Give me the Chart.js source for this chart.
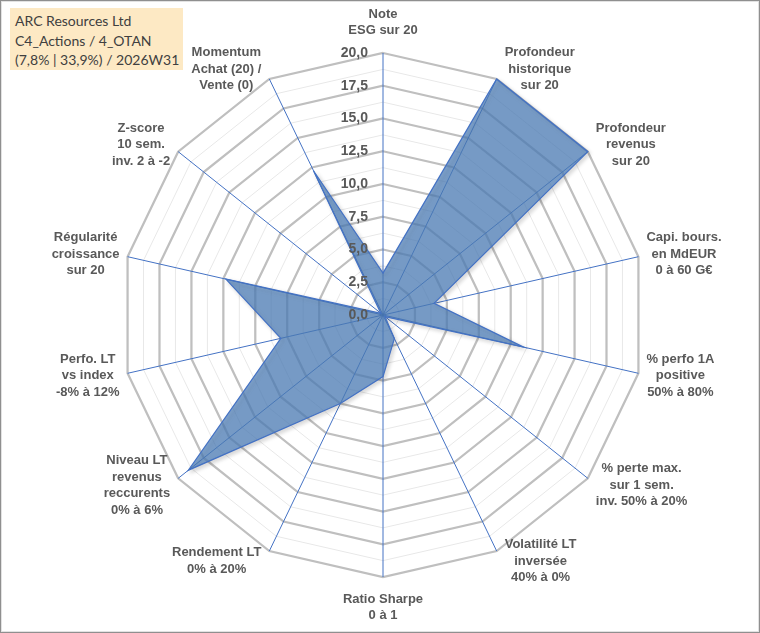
<!DOCTYPE html>
<html lang="fr">
<head>
<meta charset="utf-8">
<title>ARC Resources Ltd - radar</title>
<script src="https://cdn.jsdelivr.net/npm/chart.js@4.4.1/dist/chart.umd.min.js"></script>
<style>
  html, body { margin: 0; padding: 0; background: #fff; }
  #wrap { position: relative; width: 760px; height: 633px; overflow: hidden; }
  #radar { position: absolute; left: 0; top: 0; }
  #frame {
    position: absolute; left: 0; top: 0; width: 758px; height: 631px;
    border: 1px solid #8f8f8f; box-shadow: inset 0 0 0 1px #e2e2e2;
    pointer-events: none;
  }
  #info {
    position: absolute; left: 10px; top: 8px; width: 173px; height: 62px;
    box-sizing: border-box; padding: 3px 0 0 5px;
    background: #fde9c4; color: #404040;
    font: 14px Lato, "Open Sans", sans-serif; line-height: 19.5px;
    white-space: nowrap;
  }
</style>
</head>
<body>
<div id="wrap">
  <canvas id="radar" width="760" height="633"></canvas>
  <div id="info"></div>
  <div id="frame"></div>
</div>
<script>
// Fiche radar (14 critères notés sur 20)

const infoLines = ['ARC Resources Ltd', 'C4_Actions / 4_OTAN', '(7,8% | 33,9%) / 2026W31'];

const axisLabels = [
  ['Note', 'ESG sur 20'],
  ['Profondeur', 'historique', 'sur 20'],
  ['Profondeur', 'revenus', 'sur 20'],
  ['Capi. bours.', 'en MdEUR', '0 à 60 G€'],
  ['% perfo 1A', 'positive', '50% à 80%'],
  ['% perte max.', 'sur 1 sem.', 'inv. 50% à 20%'],
  ['Volatilité LT', 'inversée', '40% à 0%'],
  ['Ratio Sharpe', '0 à 1'],
  ['Rendement LT', '0% à 20%'],
  ['Niveau LT', 'revenus', 'reccurents', '0% à 6%'],
  ['Perfo. LT', 'vs index', '-8% à 12%'],
  ['Régularité', 'croissance', 'sur 20'],
  ['Z-score', '10 sem.', 'inv. 2 à -2'],
  ['Momentum', 'Achat (20) /', 'Vente (0)']
];

const scores = [3.2, 20, 20, 4.0, 11.0, 0.2, 2.0, 4.7, 7.5, 19.0, 8.0, 12.3, 0.2, 12.2];

const tickValues = [0, 2.5, 5, 7.5, 10, 12.5, 15, 17.5, 20];
const tickLabels = ['0,0', '2,5', '5,0', '7,5', '10,0', '12,5', '15,0', '17,5', '20,0'];

document.getElementById('info').innerHTML = infoLines.join('<br>');

const labelFont = 'bold 13px "Liberation Sans", Arial, sans-serif';
const textGrey = '#595959';

// excel-like drop shadow under the filled area
const shadowPlugin = {
  id: 'softShadow',
  beforeDatasetsDraw(chart) {
    const c = chart.ctx;
    c.save();
    c.shadowColor = 'rgba(0,0,0,0.2)';
    c.shadowBlur = 4;
    c.shadowOffsetX = 2;
    c.shadowOffsetY = 2;
  },
  afterDatasetsDraw(chart) {
    chart.ctx.restore();
  }
};

// tick values left of the top axis + centred axis titles
const labelPlugin = {
  id: 'excelLabels',
  afterDraw(chart) {
    const r = chart.scales.r;
    const ctx = chart.ctx;
    ctx.save();
    ctx.fillStyle = textGrey;

    ctx.font = 'bold 14px "Liberation Sans", Arial, sans-serif';
    ctx.textAlign = 'right';
    ctx.textBaseline = 'middle';
    tickValues.forEach((v, i) => {
      const d = r.getDistanceFromCenterForValue(v);
      ctx.fillText(tickLabels[i], r.xCenter - 15, r.yCenter - d);
    });

    ctx.font = labelFont;
    ctx.textAlign = 'center';
    const lh = 16.5;
    axisLabels.forEach((lines, i) => {
      const a = r.getIndexAngle(i);
      const p = r.getPointPosition(i, r.drawingArea);
      const w = Math.max(...lines.map(t => ctx.measureText(t).width));
      const h = lines.length * lh;
      const s = Math.sin(a), c = Math.cos(a);
      let cx, cy;
      if (Math.abs(s) < 0.01) {
        cx = p.x;
        cy = p.y - Math.sign(c) * (14 + h / 2);
      } else {
        cx = p.x + Math.sign(s) * (8 + w / 2);
        cy = p.y - c * 11;
      }
      lines.forEach((t, k) => ctx.fillText(t, cx, cy - h / 2 + lh * (k + 0.5)));
    });
    ctx.restore();
  }
};

const ctx = document.getElementById('radar').getContext('2d');
const radar = new Chart(ctx, {
  type: 'radar',
  data: {
    labels: axisLabels,
    datasets: [{
      data: scores,
      backgroundColor: 'rgba(79,129,189,0.72)',
      borderColor: '#4472C4',
      borderWidth: 1.25,
      pointRadius: 0,
      fill: true
    }]
  },
  options: {
    responsive: false,
    animation: false,
    devicePixelRatio: 1,
    layout: {
      padding: { left: 121, right: 115, top: 53, bottom: 56 }
    },
    plugins: {
      legend: { display: false },
      tooltip: { enabled: false }
    },
    elements: {
      line: { tension: 0 }
    },
    scales: {
      r: {
        min: 0,
        max: 20,
        ticks: { display: false, stepSize: 1.25 },
        pointLabels: { display: false },
        angleLines: { color: '#4472C4', lineWidth: 1 },
        grid: {
          circular: false,
          color: (c) => (c.tick && c.tick.value % 2.5 === 0) ? '#bfbfbf' : '#e8e8e8',
          lineWidth: (c) => (c.tick && c.tick.value % 2.5 === 0) ? 2.25 : 1
        }
      }
    }
  },
  plugins: [shadowPlugin, labelPlugin]
});
</script>
</body>
</html>
